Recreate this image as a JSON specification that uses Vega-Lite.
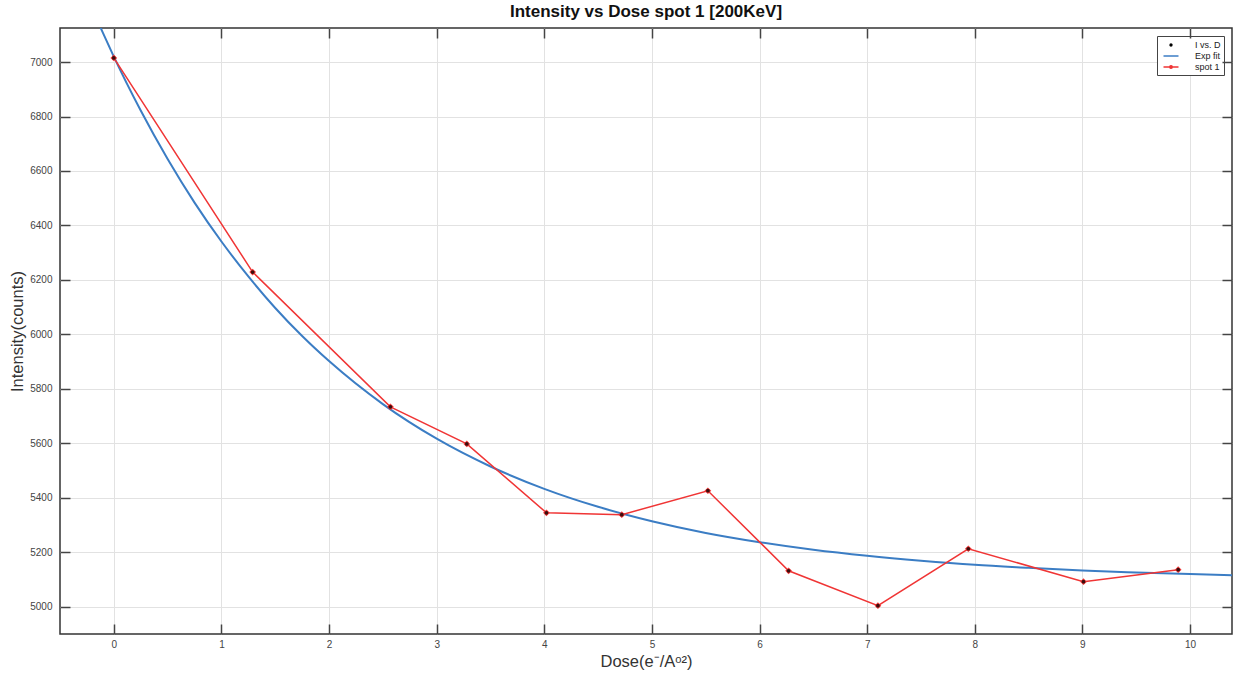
{
  "$schema": "https://vega.github.io/schema/vega-lite/v6.json",
  "width": 1172,
  "height": 606,
  "autosize": {"type": "none"},
  "padding": {"left": 60, "top": 28, "right": 3, "bottom": 43},
  "background": "white",
  "title": {"text": "Intensity vs Dose spot 1 [200KeV]", "font": "Liberation Sans", "fontSize": 17, "fontWeight": "bold", "color": "#111", "offset": 6, "anchor": "middle"},
  "config": {
    "view": {"stroke": "#333", "strokeWidth": 1.5},
    "axis": {"labelFont": "Liberation Sans", "titleFont": "Liberation Sans", "labelFontSize": 10, "labelColor": "#444", "titleFontSize": 16.5, "titleFontWeight": "normal", "titleColor": "#333", "gridColor": "#e2e2e2", "gridWidth": 1, "tickColor": "#444", "tickWidth": 1.5, "domain": false}
  },
  "resolve": {"axis": {"x": "independent", "y": "independent"}},
  "layer": [
    {
      "data": {"values": [
        {"d": -0.15, "v": 7150}, {"d": -0.1, "v": 7106}, {"d": 0, "v": 7020}, {"d": 0.25, "v": 6822}, {"d": 0.5, "v": 6644},
        {"d": 0.75, "v": 6484}, {"d": 1, "v": 6341}, {"d": 1.25, "v": 6213}, {"d": 1.5, "v": 6097},
        {"d": 1.75, "v": 5994}, {"d": 2, "v": 5902}, {"d": 2.5, "v": 5744}, {"d": 3, "v": 5617},
        {"d": 3.5, "v": 5515}, {"d": 4, "v": 5433}, {"d": 4.5, "v": 5367}, {"d": 5, "v": 5314},
        {"d": 5.5, "v": 5271}, {"d": 6, "v": 5237}, {"d": 6.5, "v": 5209}, {"d": 7, "v": 5187},
        {"d": 7.5, "v": 5169}, {"d": 8, "v": 5154}, {"d": 8.5, "v": 5143}, {"d": 9, "v": 5133},
        {"d": 9.5, "v": 5126}, {"d": 10, "v": 5120}, {"d": 10.4, "v": 5116}
      ]},
      "mark": {"type": "line", "interpolate": "monotone", "strokeWidth": 2, "clip": true},
      "encoding": {
        "x": {"field": "d", "type": "quantitative", "scale": {"domain": [-0.5, 10.39], "nice": false, "zero": false},
              "axis": {"values": [0,1,2,3,4,5,6,7,8,9,10], "grid": true, "offset": -10, "ticks": false, "labels": false, "title": null}},
        "y": {"field": "v", "type": "quantitative", "scale": {"domain": [4900, 7125], "nice": false, "zero": false},
              "axis": {"values": [5000,5200,5400,5600,5800,6000,6200,6400,6600,6800,7000], "grid": true, "offset": -10, "ticks": false, "labels": false, "title": null}},
        "color": {"datum": "Exp fit", "type": "nominal",
          "scale": {"domain": ["I vs. D", "Exp fit", "spot 1"], "range": ["#000000", "#3b7dc4", "#f03535"]},
          "legend": {"title": null, "orient": "top-right", "offset": 8, "labelFont": "Liberation Sans", "labelFontSize": 9, "labelColor": "#222",
            "strokeColor": "#444", "fillColor": "white", "padding": 3, "rowPadding": 0, "symbolSize": 100, "labelOffset": 23,
            "encode": {"symbols": {"update": {
              "shape": {"signal": "datum.value === 'I vs. D' ? 'M0.82,0A0.18,0.18 0 1,0 1.18,0A0.18,0.18 0 1,0 0.82,0' : datum.value === 'Exp fit' ? 'M-0.5,0H2.5' : 'M-0.5,0H0.75M1.25,0H2.5M0.75,0A0.25,0.25 0 1,0 1.25,0A0.25,0.25 0 1,0 0.75,0'"},
              "size": {"value": 100},
              "fill": {"signal": "datum.value === 'I vs. D' ? '#000' : 'transparent'"},
              "stroke": {"signal": "datum.value === 'I vs. D' ? '#000' : datum.value === 'Exp fit' ? '#3b7dc4' : '#f03535'"},
              "strokeWidth": {"value": 1.5},
              "opacity": {"value": 1}
            }}}}}
      }
    },
    {
      "data": {"values": [
        {"d": 0, "v": 7015}, {"d": 1.29, "v": 6229}, {"d": 2.57, "v": 5734}, {"d": 3.28, "v": 5598},
        {"d": 4.02, "v": 5345}, {"d": 4.72, "v": 5338}, {"d": 5.52, "v": 5426}, {"d": 6.27, "v": 5132},
        {"d": 7.10, "v": 5004}, {"d": 7.94, "v": 5213}, {"d": 9.01, "v": 5092}, {"d": 9.89, "v": 5136}
      ]},
      "layer": [
        {
          "mark": {"type": "line", "strokeWidth": 1.5, "clip": true},
          "encoding": {
            "x": {"field": "d", "type": "quantitative", "axis": {"orient": "top", "labels": false, "title": null, "grid": false, "values": [0,1,2,3,4,5,6,7,8,9,10], "offset": -10, "tickSize": 10, "zindex": 1}},
            "y": {"field": "v", "type": "quantitative", "axis": {"orient": "right", "labels": false, "title": null, "grid": false, "values": [5000,5200,5400,5600,5800,6000,6200,6400,6600,6800,7000], "offset": -10, "tickSize": 10, "zindex": 1}},
            "color": {"datum": "spot 1", "type": "nominal"}
          }
        },
        {
          "mark": {"type": "point", "filled": true, "size": 45, "opacity": 1, "shape": "diamond"},
          "encoding": {
            "x": {"field": "d", "type": "quantitative", "axis": {"orient": "bottom", "title": "Dose(e⁻/Aᵒ²)", "grid": false, "values": [0,1,2,3,4,5,6,7,8,9,10], "offset": -10, "tickSize": 10, "labelPadding": 5, "titlePadding": 4, "zindex": 1}},
            "y": {"field": "v", "type": "quantitative", "axis": {"orient": "left", "title": "Intensity(counts)", "format": "d", "grid": false, "values": [5000,5200,5400,5600,5800,6000,6200,6400,6600,6800,7000], "offset": -10, "tickSize": 10, "labelPadding": 8, "titlePadding": 4, "zindex": 1}},
            "color": {"datum": "spot 1", "type": "nominal"}
          }
        },
        {
          "mark": {"type": "point", "filled": true, "size": 14, "opacity": 0.75, "shape": "circle"},
          "encoding": {
            "x": {"field": "d", "type": "quantitative", "axis": null},
            "y": {"field": "v", "type": "quantitative", "axis": null},
            "color": {"datum": "I vs. D", "type": "nominal"}
          }
        }
      ]
    }
  ]
}
